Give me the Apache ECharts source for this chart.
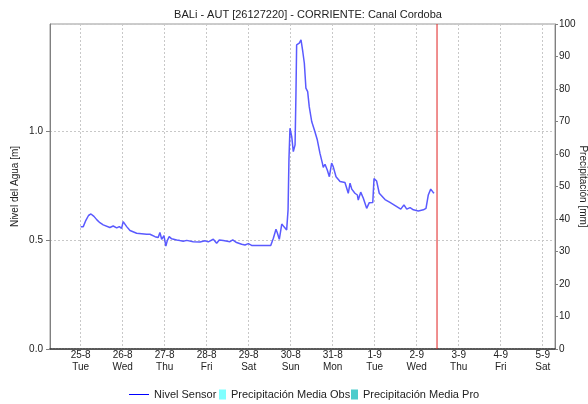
<!DOCTYPE html>
<html>
<head>
<meta charset="utf-8">
<script src="https://cdn.jsdelivr.net/npm/echarts@6/dist/echarts.min.js"></script>
<style>
  html, body { margin: 0; padding: 0; background: #fff; }
  #chart { width: 588px; height: 404px; }
</style>
</head>
<body>
<div id="chart"></div>
<script>
// horas desde 25-8-2020 00:00
const horas = [0, 1.5, 3.0, 4.5, 5.9, 7.6, 9.3, 11.0, 12.9, 13.9, 16.7, 18.6, 20.6, 22.1, 23.4, 24.3, 26.3, 28.2,
  32.0, 37.7, 39.6, 42.5, 44.3, 45.3, 46.3, 47.6, 48.7, 49.5, 50.6, 52.0, 52.9, 54.9, 56.7, 58.6, 60.6, 64.3,
  68.2, 69.1, 71.0, 72.9, 75.8, 77.7, 79.2, 81.5, 85.3, 86.9, 89.1, 92.0, 93.9, 95.8, 97.7, 99.6, 102.5, 108.6,
  110.1, 111.6, 112.3, 113.5, 114.9, 116.2, 117.7, 118.5, 119.0, 119.6, 120.6, 121.5, 122.5, 123.0, 123.4, 124.9,
  125.9, 126.9, 127.8, 128.7, 129.7, 130.6, 132.0, 133.5, 135.2, 136.7, 138.1, 138.6, 139.6, 140.9, 142.1, 143.4,
  144.3, 145.9, 148.2, 151.0, 152.0, 152.9, 153.9, 154.9, 156.7, 158.1, 158.6, 160.0, 161.5, 163.4, 164.9, 166.9,
  167.6, 169.1, 170.6, 173.9, 176.7, 180.6, 182.9, 184.7, 186.3, 188.2, 190.1, 192.9, 195.8, 197.3, 198.6, 200.0,
  201.5, 201.9];
const nivel = [0.561, 0.561, 0.59, 0.612, 0.619, 0.608, 0.592, 0.579, 0.569, 0.573, 0.557, 0.564, 0.555, 0.561, 0.553, 0.584, 0.561, 0.543,
  0.531, 0.526, 0.526, 0.515, 0.511, 0.534, 0.503, 0.52, 0.472, 0.497, 0.515, 0.505, 0.512, 0.5, 0.497, 0.494, 0.498, 0.492,
  0.491, 0.485, 0.496, 0.491, 0.503, 0.485, 0.5, 0.497, 0.492, 0.5, 0.488, 0.48, 0.477, 0.483, 0.475, 0.474, 0.474, 0.474,
  0.508, 0.549, 0.534, 0.503, 0.573, 0.56, 0.546, 0.638, 0.867, 1.012, 0.974, 0.905, 0.936, 1.165, 1.394, 1.402,
  1.417, 1.364, 1.31, 1.196, 1.18, 1.111, 1.043, 1.005, 0.959, 0.898, 0.852, 0.833, 0.847, 0.821, 0.79, 0.852,
  0.836, 0.79, 0.768, 0.763, 0.76, 0.714, 0.76, 0.733, 0.714, 0.706, 0.683, 0.719, 0.691, 0.645, 0.671, 0.672,
  0.781, 0.77, 0.714, 0.685, 0.672, 0.653, 0.641, 0.661, 0.641, 0.648, 0.638, 0.633, 0.638, 0.645, 0.706, 0.733,
  0.717, 0.714];
const precipObs = [];
const precipPro = [];
const dias = ['Sun', 'Mon', 'Tue', 'Wed', 'Thu', 'Fri', 'Sat'];
const horaInicio = -17.5;
const horaFin = 271;
const horaActual = 203.6;
const nivelMax = 1.49;

const base = Date.UTC(2020, 7, 25);
const H = 3600 * 1000;
const font = 'Liberation Sans';

const chart = echarts.init(document.getElementById('chart'));
chart.setOption({
  useUTC: true,
  animation: false,
  textStyle: { fontFamily: font },
  title: {
    text: 'BALi - AUT [26127220] - CORRIENTE: Canal Cordoba',
    left: 303, top: 4, textAlign: 'center',
    textStyle: { fontSize: 11, fontWeight: 'normal', color: '#222', fontFamily: font }
  },
  legend: [
    { left: 129, top: 389, padding: 0, itemWidth: 20, itemHeight: 10,
      icon: 'path://M0,0 H20 V1 H0 Z',
      textStyle: { fontSize: 11, color: '#222' },
      data: ['Nivel Sensor'] },
    { left: 219, top: 389, padding: 0, itemWidth: 7, itemHeight: 10, icon: 'rect',
      textStyle: { fontSize: 11, color: '#222' }, data: ['Precipitación Media Obs'] },
    { left: 351, top: 389, padding: 0, itemWidth: 7, itemHeight: 10, icon: 'rect',
      textStyle: { fontSize: 11, color: '#222' }, data: ['Precipitación Media Pro'] }
  ],
  grid: {
    left: 50, right: 33, top: 24, bottom: 55, outerBoundsMode: 'none',
    show: true, borderColor: '#999', borderWidth: 1
  },
  xAxis: {
    type: 'time',
    min: base + horaInicio * H,
    max: base + horaFin * H,
    minInterval: 24 * H,
    maxInterval: 24 * H,
    axisLine: { lineStyle: { color: '#333', type: [2, 1], width: 1.5 } },
    axisTick: { show: false },
    splitLine: { show: true, lineStyle: { color: '#c8c8c8', type: [2, 2] } },
    axisLabel: {
      interval: 0, margin: 0, fontSize: 10, lineHeight: 12, color: '#222', hideOverlap: false,
      formatter: function (v) {
        const d = new Date(v);
        if (d.getUTCHours() !== 0 || d.getUTCMinutes() !== 0) return '';
        return d.getUTCDate() + '-' + (d.getUTCMonth() + 1) + '\n' + dias[d.getUTCDay()];
      }
    }
  },
  yAxis: [
    {
      type: 'value', min: 0, max: nivelMax, interval: 0.5,
      name: 'Nivel del Agua [m]', nameLocation: 'middle', nameGap: 30, nameMoveOverlap: false,
      nameTextStyle: { fontSize: 10, color: '#222' },
      axisLine: { show: true, lineStyle: { color: '#808080' } },
      axisTick: { show: true, length: 4, lineStyle: { color: '#808080' } },
      axisLabel: { fontSize: 10, color: '#222', margin: 7, showMaxLabel: false,
        formatter: v => v.toFixed(1) },
      splitLine: { show: true, lineStyle: { color: '#c8c8c8', type: [2, 2] } }
    },
    {
      type: 'value', min: 0, max: 100, interval: 10, position: 'right',
      name: 'Precipitación [mm]', nameLocation: 'middle', nameGap: 23, nameRotate: -90, nameMoveOverlap: false,
      nameTextStyle: { fontSize: 10, color: '#222' },
      axisLine: { show: true, lineStyle: { color: '#808080' } },
      axisTick: { show: true, length: 3, lineStyle: { color: '#808080' } },
      axisLabel: { fontSize: 10, color: '#222', margin: 4 },
      splitLine: { show: false }
    }
  ],
  series: [
    {
      name: 'Nivel Sensor', type: 'line', symbol: 'none', showSymbol: false,
      color: '#0000ff',
      lineStyle: { color: '#5a5aff', width: 1.5 },
      data: horas.map((h, i) => [base + h * H, nivel[i]])
    },
    {
      name: 'Ahora', type: 'line', symbol: 'none', silent: true, z: 5,
      color: '#e02020',
      lineStyle: { color: '#e02020', width: 1 },
      data: [[base + horaActual * H, 0], [base + horaActual * H, nivelMax]]
    },
    { name: 'Precipitación Media Obs', type: 'line', yAxisIndex: 1, symbol: 'none', color: '#80ffff', data: precipObs },
    { name: 'Precipitación Media Pro', type: 'line', yAxisIndex: 1, symbol: 'none', color: '#4dcccc', data: precipPro }
  ]
});
</script>
</body>
</html>
